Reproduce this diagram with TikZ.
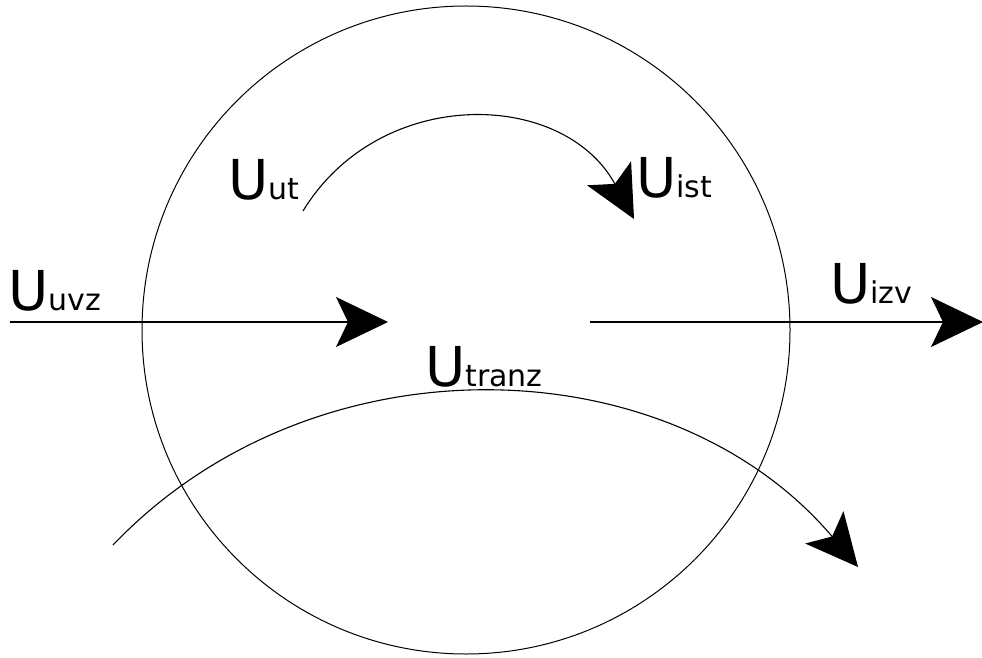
\documentclass[tikz,border=0pt]{standalone}
\usepackage{fontspec}
\setmainfont{DejaVu Sans}
\usetikzlibrary{arrows.meta}
\tikzset{
	lbl/.style={inner sep=0pt, anchor=base west},
	flow/.style={line width=1.1pt, -{Stealth[length=52pt, width=50pt, inset=12pt]}},
	>=stealth,
}
\def\bigU{55}
\newcommand{\Usub}[1]{{\fontsize{\bigU}{\bigU}\selectfont U}{\fontsize{30}{30}\selectfont #1}}

\begin{document}
\begin{tikzpicture}[x=1pt, y=1pt]
\useasboundingbox (0,0) rectangle (982,657);
\draw[line width=1pt] (466,327) circle[radius=324];
% free ends of the flows
\coordinate (uvz-from) at (10,335);
\coordinate (uvz-to) at (388,335);
\coordinate (izv-from) at (590,335);
\coordinate (izv-to) at (983,335);
\coordinate (ut-from) at (303,446);
\coordinate (ist-to) at (634,438);
\coordinate (tranz-from) at (113,112);
\coordinate (tranz-to) at (858,90);
% labels
\node[lbl] (uvz) at (8,347) {\Usub{uvz}};
\node[lbl] (izv) at (830,354) {\Usub{izv}};
\node[lbl] (ut) at (228,457) {\Usub{ut}};
\node[lbl] (ist) at (636,459) {\Usub{ist}};
\node[lbl] (tranz) at (425,271) {\Usub{tranz}};
% flows
\draw[flow] (uvz-from) -- (uvz-to);
\draw[flow] (izv-from) -- (izv-to);
\draw[flow] (ut-from) to[bend left=60, looseness=1.14] (ist-to);
\draw[flow] (tranz-from) to[bend left=48] (tranz-to);
\end{tikzpicture}
\end{document}
